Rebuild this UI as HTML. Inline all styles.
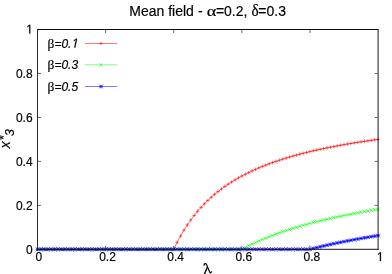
<!DOCTYPE html>
<html><head><meta charset="utf-8"><title>Mean field</title>
<style>
html,body{margin:0;padding:0;background:#fff;}
body{width:392px;height:274px;overflow:hidden;}
svg{display:block;will-change:transform;}
text{font-family:"Liberation Sans",sans-serif;fill:#000;stroke:#000;stroke-width:0.18px;}
.g{font-family:"Liberation Serif",serif;}
.i{font-style:italic;}
</style></head><body>
<svg width="392" height="274" viewBox="0 0 392 274">
<path d="M38.0,205.34h3M377.6,205.34h-3M105.62,248.8v-3M105.62,30.0v3M38.0,161.38h3M377.6,161.38h-3M173.74,248.8v-3M173.74,30.0v3M38.0,117.42h3M377.6,117.42h-3M241.86,248.8v-3M241.86,30.0v3M38.0,73.46h3M377.6,73.46h-3M309.98,248.8v-3M309.98,30.0v3" stroke="#000" stroke-width="0.6" fill="none"/>
<text font-size="12" text-anchor="end" transform="translate(32.60,253.60) scale(1.0,1.06)">0</text>
<text font-size="12" text-anchor="middle" transform="translate(38.90,261.10) scale(1.0,1.06)">0</text>
<text font-size="12" text-anchor="end" transform="translate(32.60,209.60) scale(1.0,1.06)">0.2</text>
<text font-size="12" text-anchor="middle" transform="translate(107.52,261.10) scale(1.0,1.06)">0.2</text>
<text font-size="12" text-anchor="end" transform="translate(32.60,165.60) scale(1.0,1.06)">0.4</text>
<text font-size="12" text-anchor="middle" transform="translate(175.64,261.10) scale(1.0,1.06)">0.4</text>
<text font-size="12" text-anchor="end" transform="translate(32.60,121.60) scale(1.0,1.06)">0.6</text>
<text font-size="12" text-anchor="middle" transform="translate(243.76,261.10) scale(1.0,1.06)">0.6</text>
<text font-size="12" text-anchor="end" transform="translate(32.60,77.60) scale(1.0,1.06)">0.8</text>
<text font-size="12" text-anchor="middle" transform="translate(311.88,261.10) scale(1.0,1.06)">0.8</text>
<path transform="translate(26.20,33.60) scale(0.00586,-0.00621)" d="M515 0V1237L197 1010V1180L530 1409H696V0Z" fill="#000" stroke="#000" stroke-width="38"/>
<path transform="translate(376.90,261.10) scale(0.00586,-0.00621)" d="M515 0V1237L197 1010V1180L530 1409H696V0Z" fill="#000" stroke="#000" stroke-width="38"/>
<path d="M37.50,249.30L40.91,249.30L44.31,249.30L47.72,249.30L51.12,249.30L54.53,249.30L57.94,249.30L61.34,249.30L64.75,249.30L68.15,249.30L71.56,249.30L74.97,249.30L78.37,249.30L81.78,249.30L85.18,249.30L88.59,249.30L92.00,249.30L95.40,249.30L98.81,249.30L102.21,249.30L105.62,249.30L109.03,249.30L112.43,249.30L115.84,249.30L119.24,249.30L122.65,249.30L126.06,249.30L129.46,249.30L132.87,249.30L136.27,249.30L139.68,249.30L143.09,249.30L146.49,249.30L149.90,249.30L153.30,249.30L156.71,249.30L160.12,249.30L163.52,249.30L166.93,249.30L170.33,249.30L173.74,249.30L177.15,242.32L180.55,235.98L183.96,230.19L187.36,224.88L190.77,219.99L194.18,215.48L197.58,211.31L200.99,207.43L204.39,203.82L207.80,200.46L211.21,197.30L214.61,194.35L218.02,191.57L221.42,188.96L224.83,186.50L228.24,184.17L231.64,181.97L235.05,179.89L238.45,177.91L241.86,176.03L245.27,174.25L248.67,172.54L252.08,170.92L255.48,169.37L258.89,167.89L262.30,166.48L265.70,165.12L269.11,163.82L272.51,162.58L275.92,161.38L279.33,160.23L282.73,159.13L286.14,158.06L289.54,157.04L292.95,156.05L296.36,155.10L299.76,154.18L303.17,153.30L306.57,152.44L309.98,151.61L313.39,150.81L316.79,150.04L320.20,149.29L323.60,148.56L327.01,147.85L330.42,147.17L333.82,146.51L337.23,145.86L340.63,145.24L344.04,144.63L347.45,144.04L350.85,143.47L354.26,142.91L357.66,142.37L361.07,141.84L364.48,141.33L367.88,140.83L371.29,140.34L374.69,139.86L378.10,139.40" stroke="#ff0000" stroke-width="0.6" fill="none" stroke-linejoin="round"/>
<path d="M35.70,249.30h3.60M37.50,247.50v3.60M39.11,249.30h3.60M40.91,247.50v3.60M42.51,249.30h3.60M44.31,247.50v3.60M45.92,249.30h3.60M47.72,247.50v3.60M49.32,249.30h3.60M51.12,247.50v3.60M52.73,249.30h3.60M54.53,247.50v3.60M56.14,249.30h3.60M57.94,247.50v3.60M59.54,249.30h3.60M61.34,247.50v3.60M62.95,249.30h3.60M64.75,247.50v3.60M66.35,249.30h3.60M68.15,247.50v3.60M69.76,249.30h3.60M71.56,247.50v3.60M73.17,249.30h3.60M74.97,247.50v3.60M76.57,249.30h3.60M78.37,247.50v3.60M79.98,249.30h3.60M81.78,247.50v3.60M83.38,249.30h3.60M85.18,247.50v3.60M86.79,249.30h3.60M88.59,247.50v3.60M90.20,249.30h3.60M92.00,247.50v3.60M93.60,249.30h3.60M95.40,247.50v3.60M97.01,249.30h3.60M98.81,247.50v3.60M100.41,249.30h3.60M102.21,247.50v3.60M103.82,249.30h3.60M105.62,247.50v3.60M107.23,249.30h3.60M109.03,247.50v3.60M110.63,249.30h3.60M112.43,247.50v3.60M114.04,249.30h3.60M115.84,247.50v3.60M117.44,249.30h3.60M119.24,247.50v3.60M120.85,249.30h3.60M122.65,247.50v3.60M124.26,249.30h3.60M126.06,247.50v3.60M127.66,249.30h3.60M129.46,247.50v3.60M131.07,249.30h3.60M132.87,247.50v3.60M134.47,249.30h3.60M136.27,247.50v3.60M137.88,249.30h3.60M139.68,247.50v3.60M141.29,249.30h3.60M143.09,247.50v3.60M144.69,249.30h3.60M146.49,247.50v3.60M148.10,249.30h3.60M149.90,247.50v3.60M151.50,249.30h3.60M153.30,247.50v3.60M154.91,249.30h3.60M156.71,247.50v3.60M158.32,249.30h3.60M160.12,247.50v3.60M161.72,249.30h3.60M163.52,247.50v3.60M165.13,249.30h3.60M166.93,247.50v3.60M168.53,249.30h3.60M170.33,247.50v3.60M171.94,249.30h3.60M173.74,247.50v3.60M175.35,242.32h3.60M177.15,240.52v3.60M178.75,235.98h3.60M180.55,234.18v3.60M182.16,230.19h3.60M183.96,228.39v3.60M185.56,224.88h3.60M187.36,223.08v3.60M188.97,219.99h3.60M190.77,218.19v3.60M192.38,215.48h3.60M194.18,213.68v3.60M195.78,211.31h3.60M197.58,209.51v3.60M199.19,207.43h3.60M200.99,205.63v3.60M202.59,203.82h3.60M204.39,202.02v3.60M206.00,200.46h3.60M207.80,198.66v3.60M209.41,197.30h3.60M211.21,195.50v3.60M212.81,194.35h3.60M214.61,192.55v3.60M216.22,191.57h3.60M218.02,189.77v3.60M219.62,188.96h3.60M221.42,187.16v3.60M223.03,186.50h3.60M224.83,184.70v3.60M226.44,184.17h3.60M228.24,182.37v3.60M229.84,181.97h3.60M231.64,180.17v3.60M233.25,179.89h3.60M235.05,178.09v3.60M236.65,177.91h3.60M238.45,176.11v3.60M240.06,176.03h3.60M241.86,174.23v3.60M243.47,174.25h3.60M245.27,172.45v3.60M246.87,172.54h3.60M248.67,170.74v3.60M250.28,170.92h3.60M252.08,169.12v3.60M253.68,169.37h3.60M255.48,167.57v3.60M257.09,167.89h3.60M258.89,166.09v3.60M260.50,166.48h3.60M262.30,164.68v3.60M263.90,165.12h3.60M265.70,163.32v3.60M267.31,163.82h3.60M269.11,162.02v3.60M270.71,162.58h3.60M272.51,160.78v3.60M274.12,161.38h3.60M275.92,159.58v3.60M277.53,160.23h3.60M279.33,158.43v3.60M280.93,159.13h3.60M282.73,157.33v3.60M284.34,158.06h3.60M286.14,156.26v3.60M287.74,157.04h3.60M289.54,155.24v3.60M291.15,156.05h3.60M292.95,154.25v3.60M294.56,155.10h3.60M296.36,153.30v3.60M297.96,154.18h3.60M299.76,152.38v3.60M301.37,153.30h3.60M303.17,151.50v3.60M304.77,152.44h3.60M306.57,150.64v3.60M308.18,151.61h3.60M309.98,149.81v3.60M311.59,150.81h3.60M313.39,149.01v3.60M314.99,150.04h3.60M316.79,148.24v3.60M318.40,149.29h3.60M320.20,147.49v3.60M321.80,148.56h3.60M323.60,146.76v3.60M325.21,147.85h3.60M327.01,146.05v3.60M328.62,147.17h3.60M330.42,145.37v3.60M332.02,146.51h3.60M333.82,144.71v3.60M335.43,145.86h3.60M337.23,144.06v3.60M338.83,145.24h3.60M340.63,143.44v3.60M342.24,144.63h3.60M344.04,142.83v3.60M345.65,144.04h3.60M347.45,142.24v3.60M349.05,143.47h3.60M350.85,141.67v3.60M352.46,142.91h3.60M354.26,141.11v3.60M355.86,142.37h3.60M357.66,140.57v3.60M359.27,141.84h3.60M361.07,140.04v3.60M362.68,141.33h3.60M364.48,139.53v3.60M366.08,140.83h3.60M367.88,139.03v3.60M369.49,140.34h3.60M371.29,138.54v3.60M372.89,139.86h3.60M374.69,138.06v3.60M376.30,139.40h3.60M378.10,137.60v3.60" stroke="#ff0000" stroke-width="0.55" fill="none"/>
<path d="M37.50,249.30L40.91,249.30L44.31,249.30L47.72,249.30L51.12,249.30L54.53,249.30L57.94,249.30L61.34,249.30L64.75,249.30L68.15,249.30L71.56,249.30L74.97,249.30L78.37,249.30L81.78,249.30L85.18,249.30L88.59,249.30L92.00,249.30L95.40,249.30L98.81,249.30L102.21,249.30L105.62,249.30L109.03,249.30L112.43,249.30L115.84,249.30L119.24,249.30L122.65,249.30L126.06,249.30L129.46,249.30L132.87,249.30L136.27,249.30L139.68,249.30L143.09,249.30L146.49,249.30L149.90,249.30L153.30,249.30L156.71,249.30L160.12,249.30L163.52,249.30L166.93,249.30L170.33,249.30L173.74,249.30L177.15,249.30L180.55,249.30L183.96,249.30L187.36,249.30L190.77,249.30L194.18,249.30L197.58,249.30L200.99,249.30L204.39,249.30L207.80,249.30L211.21,249.30L214.61,249.30L218.02,249.30L221.42,249.30L224.83,249.30L228.24,249.30L231.64,249.30L235.05,249.30L238.45,249.30L241.86,249.30L245.27,247.51L248.67,245.78L252.08,244.13L255.48,242.54L258.89,241.01L262.30,239.53L265.70,238.11L269.11,236.74L272.51,235.42L275.92,234.14L279.33,232.91L282.73,231.72L286.14,230.56L289.54,229.45L292.95,228.37L296.36,227.32L299.76,226.31L303.17,225.32L306.57,224.37L309.98,223.44L313.39,222.54L316.79,221.67L320.20,220.82L323.60,219.99L327.01,219.19L330.42,218.41L333.82,217.65L337.23,216.91L340.63,216.19L344.04,215.48L347.45,214.80L350.85,214.13L354.26,213.48L357.66,212.85L361.07,212.23L364.48,211.62L367.88,211.03L371.29,210.45L374.69,209.89L378.10,209.34" stroke="#00ff00" stroke-width="0.6" fill="none" stroke-linejoin="round"/>
<path d="M35.70,247.50l3.60,3.60M35.70,251.10l3.60,-3.60M39.11,247.50l3.60,3.60M39.11,251.10l3.60,-3.60M42.51,247.50l3.60,3.60M42.51,251.10l3.60,-3.60M45.92,247.50l3.60,3.60M45.92,251.10l3.60,-3.60M49.32,247.50l3.60,3.60M49.32,251.10l3.60,-3.60M52.73,247.50l3.60,3.60M52.73,251.10l3.60,-3.60M56.14,247.50l3.60,3.60M56.14,251.10l3.60,-3.60M59.54,247.50l3.60,3.60M59.54,251.10l3.60,-3.60M62.95,247.50l3.60,3.60M62.95,251.10l3.60,-3.60M66.35,247.50l3.60,3.60M66.35,251.10l3.60,-3.60M69.76,247.50l3.60,3.60M69.76,251.10l3.60,-3.60M73.17,247.50l3.60,3.60M73.17,251.10l3.60,-3.60M76.57,247.50l3.60,3.60M76.57,251.10l3.60,-3.60M79.98,247.50l3.60,3.60M79.98,251.10l3.60,-3.60M83.38,247.50l3.60,3.60M83.38,251.10l3.60,-3.60M86.79,247.50l3.60,3.60M86.79,251.10l3.60,-3.60M90.20,247.50l3.60,3.60M90.20,251.10l3.60,-3.60M93.60,247.50l3.60,3.60M93.60,251.10l3.60,-3.60M97.01,247.50l3.60,3.60M97.01,251.10l3.60,-3.60M100.41,247.50l3.60,3.60M100.41,251.10l3.60,-3.60M103.82,247.50l3.60,3.60M103.82,251.10l3.60,-3.60M107.23,247.50l3.60,3.60M107.23,251.10l3.60,-3.60M110.63,247.50l3.60,3.60M110.63,251.10l3.60,-3.60M114.04,247.50l3.60,3.60M114.04,251.10l3.60,-3.60M117.44,247.50l3.60,3.60M117.44,251.10l3.60,-3.60M120.85,247.50l3.60,3.60M120.85,251.10l3.60,-3.60M124.26,247.50l3.60,3.60M124.26,251.10l3.60,-3.60M127.66,247.50l3.60,3.60M127.66,251.10l3.60,-3.60M131.07,247.50l3.60,3.60M131.07,251.10l3.60,-3.60M134.47,247.50l3.60,3.60M134.47,251.10l3.60,-3.60M137.88,247.50l3.60,3.60M137.88,251.10l3.60,-3.60M141.29,247.50l3.60,3.60M141.29,251.10l3.60,-3.60M144.69,247.50l3.60,3.60M144.69,251.10l3.60,-3.60M148.10,247.50l3.60,3.60M148.10,251.10l3.60,-3.60M151.50,247.50l3.60,3.60M151.50,251.10l3.60,-3.60M154.91,247.50l3.60,3.60M154.91,251.10l3.60,-3.60M158.32,247.50l3.60,3.60M158.32,251.10l3.60,-3.60M161.72,247.50l3.60,3.60M161.72,251.10l3.60,-3.60M165.13,247.50l3.60,3.60M165.13,251.10l3.60,-3.60M168.53,247.50l3.60,3.60M168.53,251.10l3.60,-3.60M171.94,247.50l3.60,3.60M171.94,251.10l3.60,-3.60M175.35,247.50l3.60,3.60M175.35,251.10l3.60,-3.60M178.75,247.50l3.60,3.60M178.75,251.10l3.60,-3.60M182.16,247.50l3.60,3.60M182.16,251.10l3.60,-3.60M185.56,247.50l3.60,3.60M185.56,251.10l3.60,-3.60M188.97,247.50l3.60,3.60M188.97,251.10l3.60,-3.60M192.38,247.50l3.60,3.60M192.38,251.10l3.60,-3.60M195.78,247.50l3.60,3.60M195.78,251.10l3.60,-3.60M199.19,247.50l3.60,3.60M199.19,251.10l3.60,-3.60M202.59,247.50l3.60,3.60M202.59,251.10l3.60,-3.60M206.00,247.50l3.60,3.60M206.00,251.10l3.60,-3.60M209.41,247.50l3.60,3.60M209.41,251.10l3.60,-3.60M212.81,247.50l3.60,3.60M212.81,251.10l3.60,-3.60M216.22,247.50l3.60,3.60M216.22,251.10l3.60,-3.60M219.62,247.50l3.60,3.60M219.62,251.10l3.60,-3.60M223.03,247.50l3.60,3.60M223.03,251.10l3.60,-3.60M226.44,247.50l3.60,3.60M226.44,251.10l3.60,-3.60M229.84,247.50l3.60,3.60M229.84,251.10l3.60,-3.60M233.25,247.50l3.60,3.60M233.25,251.10l3.60,-3.60M236.65,247.50l3.60,3.60M236.65,251.10l3.60,-3.60M240.06,247.50l3.60,3.60M240.06,251.10l3.60,-3.60M243.47,245.71l3.60,3.60M243.47,249.31l3.60,-3.60M246.87,243.98l3.60,3.60M246.87,247.58l3.60,-3.60M250.28,242.33l3.60,3.60M250.28,245.93l3.60,-3.60M253.68,240.74l3.60,3.60M253.68,244.34l3.60,-3.60M257.09,239.21l3.60,3.60M257.09,242.81l3.60,-3.60M260.50,237.73l3.60,3.60M260.50,241.33l3.60,-3.60M263.90,236.31l3.60,3.60M263.90,239.91l3.60,-3.60M267.31,234.94l3.60,3.60M267.31,238.54l3.60,-3.60M270.71,233.62l3.60,3.60M270.71,237.22l3.60,-3.60M274.12,232.34l3.60,3.60M274.12,235.94l3.60,-3.60M277.53,231.11l3.60,3.60M277.53,234.71l3.60,-3.60M280.93,229.92l3.60,3.60M280.93,233.52l3.60,-3.60M284.34,228.76l3.60,3.60M284.34,232.36l3.60,-3.60M287.74,227.65l3.60,3.60M287.74,231.25l3.60,-3.60M291.15,226.57l3.60,3.60M291.15,230.17l3.60,-3.60M294.56,225.52l3.60,3.60M294.56,229.12l3.60,-3.60M297.96,224.51l3.60,3.60M297.96,228.11l3.60,-3.60M301.37,223.52l3.60,3.60M301.37,227.12l3.60,-3.60M304.77,222.57l3.60,3.60M304.77,226.17l3.60,-3.60M308.18,221.64l3.60,3.60M308.18,225.24l3.60,-3.60M311.59,220.74l3.60,3.60M311.59,224.34l3.60,-3.60M314.99,219.87l3.60,3.60M314.99,223.47l3.60,-3.60M318.40,219.02l3.60,3.60M318.40,222.62l3.60,-3.60M321.80,218.19l3.60,3.60M321.80,221.79l3.60,-3.60M325.21,217.39l3.60,3.60M325.21,220.99l3.60,-3.60M328.62,216.61l3.60,3.60M328.62,220.21l3.60,-3.60M332.02,215.85l3.60,3.60M332.02,219.45l3.60,-3.60M335.43,215.11l3.60,3.60M335.43,218.71l3.60,-3.60M338.83,214.39l3.60,3.60M338.83,217.99l3.60,-3.60M342.24,213.68l3.60,3.60M342.24,217.28l3.60,-3.60M345.65,213.00l3.60,3.60M345.65,216.60l3.60,-3.60M349.05,212.33l3.60,3.60M349.05,215.93l3.60,-3.60M352.46,211.68l3.60,3.60M352.46,215.28l3.60,-3.60M355.86,211.05l3.60,3.60M355.86,214.65l3.60,-3.60M359.27,210.43l3.60,3.60M359.27,214.03l3.60,-3.60M362.68,209.82l3.60,3.60M362.68,213.42l3.60,-3.60M366.08,209.23l3.60,3.60M366.08,212.83l3.60,-3.60M369.49,208.65l3.60,3.60M369.49,212.25l3.60,-3.60M372.89,208.09l3.60,3.60M372.89,211.69l3.60,-3.60M376.30,207.54l3.60,3.60M376.30,211.14l3.60,-3.60" stroke="#00ff00" stroke-width="0.55" fill="none"/>
<path d="M37.50,249.30L40.91,249.30L44.31,249.30L47.72,249.30L51.12,249.30L54.53,249.30L57.94,249.30L61.34,249.30L64.75,249.30L68.15,249.30L71.56,249.30L74.97,249.30L78.37,249.30L81.78,249.30L85.18,249.30L88.59,249.30L92.00,249.30L95.40,249.30L98.81,249.30L102.21,249.30L105.62,249.30L109.03,249.30L112.43,249.30L115.84,249.30L119.24,249.30L122.65,249.30L126.06,249.30L129.46,249.30L132.87,249.30L136.27,249.30L139.68,249.30L143.09,249.30L146.49,249.30L149.90,249.30L153.30,249.30L156.71,249.30L160.12,249.30L163.52,249.30L166.93,249.30L170.33,249.30L173.74,249.30L177.15,249.30L180.55,249.30L183.96,249.30L187.36,249.30L190.77,249.30L194.18,249.30L197.58,249.30L200.99,249.30L204.39,249.30L207.80,249.30L211.21,249.30L214.61,249.30L218.02,249.30L221.42,249.30L224.83,249.30L228.24,249.30L231.64,249.30L235.05,249.30L238.45,249.30L241.86,249.30L245.27,249.30L248.67,249.30L252.08,249.30L255.48,249.30L258.89,249.30L262.30,249.30L265.70,249.30L269.11,249.30L272.51,249.30L275.92,249.30L279.33,249.30L282.73,249.30L286.14,249.30L289.54,249.30L292.95,249.30L296.36,249.30L299.76,249.30L303.17,249.30L306.57,249.30L309.98,249.30L313.39,248.43L316.79,247.59L320.20,246.77L323.60,245.97L327.01,245.19L330.42,244.43L333.82,243.69L337.23,242.97L340.63,242.27L344.04,241.59L347.45,240.92L350.85,240.27L354.26,239.63L357.66,239.01L361.07,238.40L364.48,237.81L367.88,237.23L371.29,236.66L374.69,236.11L378.10,235.56" stroke="#0000ff" stroke-width="0.7" fill="none" stroke-linejoin="round"/>
<path d="M35.70,249.30h3.60M37.50,247.50v3.60M39.11,249.30h3.60M40.91,247.50v3.60M42.51,249.30h3.60M44.31,247.50v3.60M45.92,249.30h3.60M47.72,247.50v3.60M49.32,249.30h3.60M51.12,247.50v3.60M52.73,249.30h3.60M54.53,247.50v3.60M56.14,249.30h3.60M57.94,247.50v3.60M59.54,249.30h3.60M61.34,247.50v3.60M62.95,249.30h3.60M64.75,247.50v3.60M66.35,249.30h3.60M68.15,247.50v3.60M69.76,249.30h3.60M71.56,247.50v3.60M73.17,249.30h3.60M74.97,247.50v3.60M76.57,249.30h3.60M78.37,247.50v3.60M79.98,249.30h3.60M81.78,247.50v3.60M83.38,249.30h3.60M85.18,247.50v3.60M86.79,249.30h3.60M88.59,247.50v3.60M90.20,249.30h3.60M92.00,247.50v3.60M93.60,249.30h3.60M95.40,247.50v3.60M97.01,249.30h3.60M98.81,247.50v3.60M100.41,249.30h3.60M102.21,247.50v3.60M103.82,249.30h3.60M105.62,247.50v3.60M107.23,249.30h3.60M109.03,247.50v3.60M110.63,249.30h3.60M112.43,247.50v3.60M114.04,249.30h3.60M115.84,247.50v3.60M117.44,249.30h3.60M119.24,247.50v3.60M120.85,249.30h3.60M122.65,247.50v3.60M124.26,249.30h3.60M126.06,247.50v3.60M127.66,249.30h3.60M129.46,247.50v3.60M131.07,249.30h3.60M132.87,247.50v3.60M134.47,249.30h3.60M136.27,247.50v3.60M137.88,249.30h3.60M139.68,247.50v3.60M141.29,249.30h3.60M143.09,247.50v3.60M144.69,249.30h3.60M146.49,247.50v3.60M148.10,249.30h3.60M149.90,247.50v3.60M151.50,249.30h3.60M153.30,247.50v3.60M154.91,249.30h3.60M156.71,247.50v3.60M158.32,249.30h3.60M160.12,247.50v3.60M161.72,249.30h3.60M163.52,247.50v3.60M165.13,249.30h3.60M166.93,247.50v3.60M168.53,249.30h3.60M170.33,247.50v3.60M171.94,249.30h3.60M173.74,247.50v3.60M175.35,249.30h3.60M177.15,247.50v3.60M178.75,249.30h3.60M180.55,247.50v3.60M182.16,249.30h3.60M183.96,247.50v3.60M185.56,249.30h3.60M187.36,247.50v3.60M188.97,249.30h3.60M190.77,247.50v3.60M192.38,249.30h3.60M194.18,247.50v3.60M195.78,249.30h3.60M197.58,247.50v3.60M199.19,249.30h3.60M200.99,247.50v3.60M202.59,249.30h3.60M204.39,247.50v3.60M206.00,249.30h3.60M207.80,247.50v3.60M209.41,249.30h3.60M211.21,247.50v3.60M212.81,249.30h3.60M214.61,247.50v3.60M216.22,249.30h3.60M218.02,247.50v3.60M219.62,249.30h3.60M221.42,247.50v3.60M223.03,249.30h3.60M224.83,247.50v3.60M226.44,249.30h3.60M228.24,247.50v3.60M229.84,249.30h3.60M231.64,247.50v3.60M233.25,249.30h3.60M235.05,247.50v3.60M236.65,249.30h3.60M238.45,247.50v3.60M240.06,249.30h3.60M241.86,247.50v3.60M243.47,249.30h3.60M245.27,247.50v3.60M246.87,249.30h3.60M248.67,247.50v3.60M250.28,249.30h3.60M252.08,247.50v3.60M253.68,249.30h3.60M255.48,247.50v3.60M257.09,249.30h3.60M258.89,247.50v3.60M260.50,249.30h3.60M262.30,247.50v3.60M263.90,249.30h3.60M265.70,247.50v3.60M267.31,249.30h3.60M269.11,247.50v3.60M270.71,249.30h3.60M272.51,247.50v3.60M274.12,249.30h3.60M275.92,247.50v3.60M277.53,249.30h3.60M279.33,247.50v3.60M280.93,249.30h3.60M282.73,247.50v3.60M284.34,249.30h3.60M286.14,247.50v3.60M287.74,249.30h3.60M289.54,247.50v3.60M291.15,249.30h3.60M292.95,247.50v3.60M294.56,249.30h3.60M296.36,247.50v3.60M297.96,249.30h3.60M299.76,247.50v3.60M301.37,249.30h3.60M303.17,247.50v3.60M304.77,249.30h3.60M306.57,247.50v3.60M308.18,249.30h3.60M309.98,247.50v3.60M311.59,248.43h3.60M313.39,246.63v3.60M314.99,247.59h3.60M316.79,245.79v3.60M318.40,246.77h3.60M320.20,244.97v3.60M321.80,245.97h3.60M323.60,244.17v3.60M325.21,245.19h3.60M327.01,243.39v3.60M328.62,244.43h3.60M330.42,242.63v3.60M332.02,243.69h3.60M333.82,241.89v3.60M335.43,242.97h3.60M337.23,241.17v3.60M338.83,242.27h3.60M340.63,240.47v3.60M342.24,241.59h3.60M344.04,239.79v3.60M345.65,240.92h3.60M347.45,239.12v3.60M349.05,240.27h3.60M350.85,238.47v3.60M352.46,239.63h3.60M354.26,237.83v3.60M355.86,239.01h3.60M357.66,237.21v3.60M359.27,238.40h3.60M361.07,236.60v3.60M362.68,237.81h3.60M364.48,236.01v3.60M366.08,237.23h3.60M367.88,235.43v3.60M369.49,236.66h3.60M371.29,234.86v3.60M372.89,236.11h3.60M374.69,234.31v3.60M376.30,235.56h3.60M378.10,233.76v3.60M35.70,247.50l3.60,3.60M35.70,251.10l3.60,-3.60M39.11,247.50l3.60,3.60M39.11,251.10l3.60,-3.60M42.51,247.50l3.60,3.60M42.51,251.10l3.60,-3.60M45.92,247.50l3.60,3.60M45.92,251.10l3.60,-3.60M49.32,247.50l3.60,3.60M49.32,251.10l3.60,-3.60M52.73,247.50l3.60,3.60M52.73,251.10l3.60,-3.60M56.14,247.50l3.60,3.60M56.14,251.10l3.60,-3.60M59.54,247.50l3.60,3.60M59.54,251.10l3.60,-3.60M62.95,247.50l3.60,3.60M62.95,251.10l3.60,-3.60M66.35,247.50l3.60,3.60M66.35,251.10l3.60,-3.60M69.76,247.50l3.60,3.60M69.76,251.10l3.60,-3.60M73.17,247.50l3.60,3.60M73.17,251.10l3.60,-3.60M76.57,247.50l3.60,3.60M76.57,251.10l3.60,-3.60M79.98,247.50l3.60,3.60M79.98,251.10l3.60,-3.60M83.38,247.50l3.60,3.60M83.38,251.10l3.60,-3.60M86.79,247.50l3.60,3.60M86.79,251.10l3.60,-3.60M90.20,247.50l3.60,3.60M90.20,251.10l3.60,-3.60M93.60,247.50l3.60,3.60M93.60,251.10l3.60,-3.60M97.01,247.50l3.60,3.60M97.01,251.10l3.60,-3.60M100.41,247.50l3.60,3.60M100.41,251.10l3.60,-3.60M103.82,247.50l3.60,3.60M103.82,251.10l3.60,-3.60M107.23,247.50l3.60,3.60M107.23,251.10l3.60,-3.60M110.63,247.50l3.60,3.60M110.63,251.10l3.60,-3.60M114.04,247.50l3.60,3.60M114.04,251.10l3.60,-3.60M117.44,247.50l3.60,3.60M117.44,251.10l3.60,-3.60M120.85,247.50l3.60,3.60M120.85,251.10l3.60,-3.60M124.26,247.50l3.60,3.60M124.26,251.10l3.60,-3.60M127.66,247.50l3.60,3.60M127.66,251.10l3.60,-3.60M131.07,247.50l3.60,3.60M131.07,251.10l3.60,-3.60M134.47,247.50l3.60,3.60M134.47,251.10l3.60,-3.60M137.88,247.50l3.60,3.60M137.88,251.10l3.60,-3.60M141.29,247.50l3.60,3.60M141.29,251.10l3.60,-3.60M144.69,247.50l3.60,3.60M144.69,251.10l3.60,-3.60M148.10,247.50l3.60,3.60M148.10,251.10l3.60,-3.60M151.50,247.50l3.60,3.60M151.50,251.10l3.60,-3.60M154.91,247.50l3.60,3.60M154.91,251.10l3.60,-3.60M158.32,247.50l3.60,3.60M158.32,251.10l3.60,-3.60M161.72,247.50l3.60,3.60M161.72,251.10l3.60,-3.60M165.13,247.50l3.60,3.60M165.13,251.10l3.60,-3.60M168.53,247.50l3.60,3.60M168.53,251.10l3.60,-3.60M171.94,247.50l3.60,3.60M171.94,251.10l3.60,-3.60M175.35,247.50l3.60,3.60M175.35,251.10l3.60,-3.60M178.75,247.50l3.60,3.60M178.75,251.10l3.60,-3.60M182.16,247.50l3.60,3.60M182.16,251.10l3.60,-3.60M185.56,247.50l3.60,3.60M185.56,251.10l3.60,-3.60M188.97,247.50l3.60,3.60M188.97,251.10l3.60,-3.60M192.38,247.50l3.60,3.60M192.38,251.10l3.60,-3.60M195.78,247.50l3.60,3.60M195.78,251.10l3.60,-3.60M199.19,247.50l3.60,3.60M199.19,251.10l3.60,-3.60M202.59,247.50l3.60,3.60M202.59,251.10l3.60,-3.60M206.00,247.50l3.60,3.60M206.00,251.10l3.60,-3.60M209.41,247.50l3.60,3.60M209.41,251.10l3.60,-3.60M212.81,247.50l3.60,3.60M212.81,251.10l3.60,-3.60M216.22,247.50l3.60,3.60M216.22,251.10l3.60,-3.60M219.62,247.50l3.60,3.60M219.62,251.10l3.60,-3.60M223.03,247.50l3.60,3.60M223.03,251.10l3.60,-3.60M226.44,247.50l3.60,3.60M226.44,251.10l3.60,-3.60M229.84,247.50l3.60,3.60M229.84,251.10l3.60,-3.60M233.25,247.50l3.60,3.60M233.25,251.10l3.60,-3.60M236.65,247.50l3.60,3.60M236.65,251.10l3.60,-3.60M240.06,247.50l3.60,3.60M240.06,251.10l3.60,-3.60M243.47,247.50l3.60,3.60M243.47,251.10l3.60,-3.60M246.87,247.50l3.60,3.60M246.87,251.10l3.60,-3.60M250.28,247.50l3.60,3.60M250.28,251.10l3.60,-3.60M253.68,247.50l3.60,3.60M253.68,251.10l3.60,-3.60M257.09,247.50l3.60,3.60M257.09,251.10l3.60,-3.60M260.50,247.50l3.60,3.60M260.50,251.10l3.60,-3.60M263.90,247.50l3.60,3.60M263.90,251.10l3.60,-3.60M267.31,247.50l3.60,3.60M267.31,251.10l3.60,-3.60M270.71,247.50l3.60,3.60M270.71,251.10l3.60,-3.60M274.12,247.50l3.60,3.60M274.12,251.10l3.60,-3.60M277.53,247.50l3.60,3.60M277.53,251.10l3.60,-3.60M280.93,247.50l3.60,3.60M280.93,251.10l3.60,-3.60M284.34,247.50l3.60,3.60M284.34,251.10l3.60,-3.60M287.74,247.50l3.60,3.60M287.74,251.10l3.60,-3.60M291.15,247.50l3.60,3.60M291.15,251.10l3.60,-3.60M294.56,247.50l3.60,3.60M294.56,251.10l3.60,-3.60M297.96,247.50l3.60,3.60M297.96,251.10l3.60,-3.60M301.37,247.50l3.60,3.60M301.37,251.10l3.60,-3.60M304.77,247.50l3.60,3.60M304.77,251.10l3.60,-3.60M308.18,247.50l3.60,3.60M308.18,251.10l3.60,-3.60M311.59,246.63l3.60,3.60M311.59,250.23l3.60,-3.60M314.99,245.79l3.60,3.60M314.99,249.39l3.60,-3.60M318.40,244.97l3.60,3.60M318.40,248.57l3.60,-3.60M321.80,244.17l3.60,3.60M321.80,247.77l3.60,-3.60M325.21,243.39l3.60,3.60M325.21,246.99l3.60,-3.60M328.62,242.63l3.60,3.60M328.62,246.23l3.60,-3.60M332.02,241.89l3.60,3.60M332.02,245.49l3.60,-3.60M335.43,241.17l3.60,3.60M335.43,244.77l3.60,-3.60M338.83,240.47l3.60,3.60M338.83,244.07l3.60,-3.60M342.24,239.79l3.60,3.60M342.24,243.39l3.60,-3.60M345.65,239.12l3.60,3.60M345.65,242.72l3.60,-3.60M349.05,238.47l3.60,3.60M349.05,242.07l3.60,-3.60M352.46,237.83l3.60,3.60M352.46,241.43l3.60,-3.60M355.86,237.21l3.60,3.60M355.86,240.81l3.60,-3.60M359.27,236.60l3.60,3.60M359.27,240.20l3.60,-3.60M362.68,236.01l3.60,3.60M362.68,239.61l3.60,-3.60M366.08,235.43l3.60,3.60M366.08,239.03l3.60,-3.60M369.49,234.86l3.60,3.60M369.49,238.46l3.60,-3.60M372.89,234.31l3.60,3.60M372.89,237.91l3.60,-3.60M376.30,233.76l3.60,3.60M376.30,237.36l3.60,-3.60" stroke="#0000ff" stroke-width="0.7" fill="none"/>
<path d="M37.0,29.5H378.6" stroke="#0c0c0c" stroke-width="1"/><path d="M37.5,29.5V249.8" stroke="#2c2c2c" stroke-width="1"/><path d="M37.0,249.3H378.6M378.1,29.5V249.8" stroke="#161616" stroke-width="1"/>
<path d="M84.8,43.5H117.2" stroke="#ff0000" stroke-width="0.52" fill="none"/>
<path d="M99.20,43.50h3.60M101.00,41.70v3.60" stroke="#ff0000" stroke-width="0.55" fill="none"/>
<text class="g" font-size="12" transform="translate(47.40,47.50) scale(1.12,1.04)">β</text>
<text class="i" font-size="12" transform="translate(54.40,47.50) scale(1.0,1.06)">=0.</text>
<path transform="translate(71.22,47.50) skewX(-12) scale(0.00586,-0.00621)" d="M515 0V1237L197 1010V1180L530 1409H696V0Z" fill="#000" stroke="#000" stroke-width="38"/>
<path d="M84.8,64.8H117.2" stroke="#00ff00" stroke-width="0.52" fill="none"/>
<path d="M99.20,63.00l3.60,3.60M99.20,66.60l3.60,-3.60" stroke="#00ff00" stroke-width="0.55" fill="none"/>
<text class="g" font-size="12" transform="translate(47.40,69.00) scale(1.12,1.04)">β</text>
<text class="i" font-size="12" transform="translate(54.40,69.00) scale(1.0,1.06)">=0.3</text>
<path d="M84.8,86.5H117.2" stroke="#0000ff" stroke-width="0.52" fill="none"/>
<path d="M99.20,86.50h3.60M101.00,84.70v3.60M99.20,84.70l3.60,3.60M99.20,88.30l3.60,-3.60" stroke="#0000ff" stroke-width="0.7" fill="none"/>
<text class="g" font-size="12" transform="translate(47.40,90.50) scale(1.12,1.04)">β</text>
<text class="i" font-size="12" transform="translate(54.40,90.50) scale(1.0,1.06)">=0.5</text>
<text font-size="14" transform="translate(129.30,15.95) scale(1.0,1.03)">Mean field</text>
<text font-size="14" transform="translate(198.10,15.95) scale(1.0,1.03)">-</text>
<text class="g" font-size="14" transform="translate(206.70,15.95) scale(1.3,1.07)">α</text>
<text font-size="14" transform="translate(215.90,15.95) scale(1.0,1.03)">=0.2,</text>
<text class="g" font-size="14" transform="translate(251.40,15.95) scale(1.09,1.15)">δ</text>
<text font-size="14" transform="translate(258.30,15.95) scale(1.0,1.03)">=0.3</text>
<path d="M204.0,265.3C204.1,263.6 205.7,262.9 206.4,264.3L209.7,272.0C210.2,273.2 211.2,273.1 211.6,271.7" stroke="#000" stroke-width="1.15" fill="none" stroke-linecap="round"/><path d="M207.4,266.9L204.3,274.4" stroke="#000" stroke-width="1.35" fill="none"/>
<g transform="translate(9.8,148.6) rotate(-90)"><text class="i" font-size="14.5" x="0.2" y="0">x</text><text class="i" font-size="12.3" x="8.0" y="-2.2">*</text><text class="i" font-size="12.3" x="12.6" y="4.3">3</text></g>
</svg></body></html>
